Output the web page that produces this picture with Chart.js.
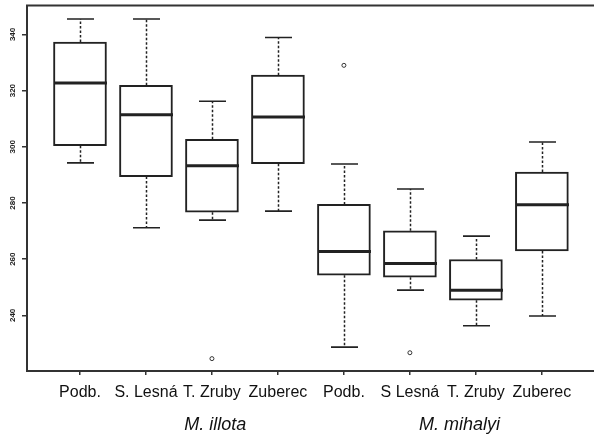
<!DOCTYPE html>
<html>
<head>
<meta charset="utf-8">
<script src="https://cdn.jsdelivr.net/npm/chart.js@4/dist/chart.umd.min.js"></script>
<style>
  html, body { margin: 0; padding: 0; background: #fff; }
  canvas { display: block; }
</style>
</head>
<body>
<canvas id="c" width="594" height="437"></canvas>
<script>
// ---- data ----
const categories = ["Podb.", "S. Lesná", "T. Zruby", "Zuberec", "Podb.", "S Lesná", "T. Zruby", "Zuberec"];
const groups = ["M. illota", "M. mihalyi"];
const groupCenters = [3.05, 6.75];
const whiskerLow  = [294.3, 271.2, 273.9, 277.1, 228.7, 249.0, 236.3, 239.8];
const q1          = [300.4, 289.4, 276.7, 294.0, 254.3, 253.6, 245.4, 262.9];
const median      = [322.7, 311.4, 293.3, 310.6, 262.7, 258.5, 248.9, 279.4];
const q3          = [337.3, 321.9, 302.7, 325.5, 279.5, 270.1, 259.9, 291.0];
const whiskerHigh = [345.5, 345.5, 316.2, 338.9, 293.9, 285.0, 268.2, 301.7];
const outlierCats = [3, 5, 6];
const outlierValues = [224.6, 329.0, 226.7];
const yTickValues = [240, 260, 280, 300, 320, 340];

const INK = '#222';
const BOX_W = 53;

const boxExtras = {
  id: 'boxExtras',
  afterDatasetsDraw(chart) {
    const ctx = chart.ctx;
    const xs = chart.scales.x, ys = chart.scales.y;
    ctx.save();
    ctx.strokeStyle = INK;
    for (let i = 0; i < categories.length; i++) {
      const x = Math.round(xs.getPixelForValue(i + 1)) + 0.5;
      const yq1 = ys.getPixelForValue(q1[i]);
      const yq3 = ys.getPixelForValue(q3[i]);
      const ylo = ys.getPixelForValue(whiskerLow[i]);
      const yhi = ys.getPixelForValue(whiskerHigh[i]);
      const ymed = ys.getPixelForValue(median[i]);
      // dashed whiskers
      ctx.lineWidth = 1.5;
      ctx.setLineDash([2.5, 2]);
      ctx.beginPath();
      ctx.moveTo(x, yq3); ctx.lineTo(x, yhi);
      ctx.moveTo(x, yq1); ctx.lineTo(x, ylo);
      ctx.stroke();
      // caps
      ctx.setLineDash([]);
      ctx.lineWidth = 1.6;
      ctx.beginPath();
      ctx.moveTo(x - 13.5, yhi); ctx.lineTo(x + 13.5, yhi);
      ctx.moveTo(x - 13.5, ylo); ctx.lineTo(x + 13.5, ylo);
      ctx.stroke();
      // median
      ctx.lineWidth = 3;
      ctx.beginPath();
      ctx.moveTo(x - BOX_W / 2, ymed); ctx.lineTo(x + BOX_W / 2, ymed);
      ctx.stroke();
    }
    ctx.restore();
  },
  afterDraw(chart) {
    const ctx = chart.ctx;
    const ca = chart.chartArea;
    const xs = chart.scales.x;
    ctx.save();
    // top border of the plot box
    ctx.strokeStyle = '#333';
    ctx.lineWidth = 2;
    ctx.beginPath();
    ctx.moveTo(ca.left - 1, ca.top);
    ctx.lineTo(ca.right, ca.top);
    ctx.stroke();
    // group labels
    ctx.fillStyle = '#111';
    ctx.font = 'italic 18px "Liberation Sans", Arial, sans-serif';
    ctx.textAlign = 'center';
    ctx.textBaseline = 'alphabetic';
    groups.forEach((g, k) => {
      ctx.fillText(g, xs.getPixelForValue(groupCenters[k]), 430);
    });
    ctx.restore();
  }
};

new Chart(document.getElementById('c'), {
  data: {
    datasets: [
      {
        type: 'bar',
        data: categories.map((c, i) => ({ x: i + 1, y: [q1[i], q3[i]] })),
        backgroundColor: '#fff',
        borderColor: INK,
        borderWidth: 2,
        borderSkipped: false,
        barThickness: BOX_W
      },
      {
        type: 'line',
        data: outlierCats.map((c, k) => ({ x: c, y: outlierValues[k] })),
        showLine: false,
        pointRadius: 2,
        pointBorderWidth: 1,
        pointBackgroundColor: '#fff',
        borderColor: '#333'
      }
    ]
  },
  plugins: [boxExtras],
  options: {
    responsive: false,
    animation: false,
    devicePixelRatio: 1,
    layout: { autoPadding: false, padding: { top: 5.5, right: 0, left: 0, bottom: 0 } },
    plugins: { legend: { display: false }, tooltip: { enabled: false } },
    scales: {
      x: {
        type: 'linear',
        offset: false,
        min: 0.197,
        max: 8.79,
        afterBuildTicks: (s) => { s.ticks = categories.map((c, i) => ({ value: i + 1 })); },
        afterFit: (s) => { s.height = 66; s.paddingRight = 0; s.paddingLeft = 0; s.paddingTop = 0; s.paddingBottom = 0; },
        grid: { offset: false, drawOnChartArea: false, drawTicks: true, tickLength: 4, color: '#333', lineWidth: 1.5 },
        border: { display: true, color: '#333', width: 2 },
        ticks: {
          autoSkip: false,
          maxRotation: 0,
          minRotation: 0,
          padding: 8,
          color: '#111',
          font: { family: '"Liberation Sans", Arial, sans-serif', size: 16 },
          callback: (v, idx) => categories[idx]
        }
      },
      y: {
        type: 'linear',
        min: 220.2,
        max: 350.3,
        afterBuildTicks: (s) => { s.ticks = yTickValues.map(v => ({ value: v })); },
        afterFit: (s) => { s.width = 27; s.paddingTop = 0; s.paddingBottom = 0; s.paddingLeft = 0; s.paddingRight = 0; },
        grid: { drawOnChartArea: false, drawTicks: true, tickLength: 5, color: '#333', lineWidth: 1.5 },
        border: { display: true, color: '#333', width: 2 },
        ticks: {
          minRotation: 90,
          maxRotation: 90,
          crossAlign: 'center',
          padding: 3,
          color: '#222',
          font: { family: '"Liberation Sans", Arial, sans-serif', size: 8, weight: 'bold' }
        }
      }
    }
  }
});
</script>
</body>
</html>
